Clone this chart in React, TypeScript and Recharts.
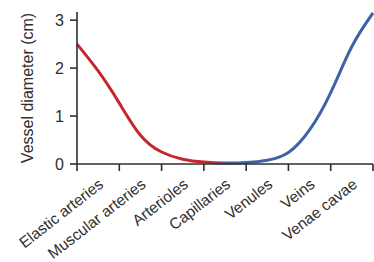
import React from 'react';
import { LineChart, Line, XAxis, YAxis } from 'recharts';

// vessel types, one band each along the x axis
const categories = [
  'Elastic arteries',
  'Muscular arteries',
  'Arterioles',
  'Capillaries',
  'Venules',
  'Veins',
  'Venae cavae',
];

// curve samples: position along the vessel tree (band units) and diameter (cm)
const positions = [0, 0.5, 1, 1.5, 2, 2.5, 3, 3.5, 4, 4.5, 5, 5.5, 6, 6.5, 7];
const diameters = [2.5, 1.94, 1.27, 0.6, 0.25, 0.1, 0.04, 0.02, 0.03, 0.08, 0.24, 0.71, 1.49, 2.45, 3.15];

const bandTicks = [0, 1, 2, 3, 4, 5, 6, 7];
const yTicks = [0, 1, 2, 3];

const W = 374;
const H = 262;
const Y_AXIS_W = 77;
const MARGIN = { top: 12, right: 1, left: 0, bottom: 0 };
const PLOT_W = W - Y_AXIS_W - MARGIN.right;
const HALF_BAND = PLOT_W / categories.length / 2;

const FONT = '"Liberation Sans", Arial, Helvetica, sans-serif';
const INK = '#2e2e2e';

const data = positions.map((p, i) => ({ pos: p, d: diameters[i] }));

const XTick = (props: any) => {
  const { x, y, payload } = props;
  const label = categories[payload.value];
  if (!label) return null;
  const tx = x + HALF_BAND + 3;
  const ty = y + 9;
  return (
    <text
      x={tx}
      y={ty}
      dy="0.35em"
      textAnchor="end"
      transform={`rotate(-38, ${tx}, ${ty})`}
      fontSize={15.5}
      fontFamily={FONT}
      fill={INK}
    >
      {label}
    </text>
  );
};

export default function App() {
  return (
    <div style={{ position: 'absolute', left: 0, top: 0, width: W, height: H, background: '#fff' }}>
      <LineChart width={W} height={H} data={data} margin={MARGIN}>
        <defs>
          <linearGradient id="vesselGrad" x1="0" y1="0" x2="1" y2="0">
            <stop offset="0%" stopColor="#c4262d" />
            <stop offset="44%" stopColor="#c4262d" />
            <stop offset="52%" stopColor="#3d63a5" />
            <stop offset="100%" stopColor="#3d63a5" />
          </linearGradient>
        </defs>
        <XAxis
          type="number"
          dataKey="pos"
          domain={[0, 7]}
          ticks={bandTicks}
          interval={0}
          height={H - 164}
          tickSize={7}
          tickMargin={2}
          axisLine={{ stroke: INK, strokeWidth: 1.6 }}
          tickLine={{ stroke: INK, strokeWidth: 1.6 }}
          tick={<XTick />}
        />
        <YAxis
          type="number"
          domain={[0, 3.17]}
          ticks={yTicks}
          interval={0}
          width={Y_AXIS_W}
          tickSize={7}
          tickMargin={6}
          axisLine={{ stroke: INK, strokeWidth: 1.6 }}
          tickLine={{ stroke: INK, strokeWidth: 1.6 }}
          tick={{ fontSize: 16, fontFamily: FONT, fill: INK }}
          label={{
            value: 'Vessel diameter (cm)',
            angle: -90,
            position: 'center',
            dx: -11,
            fontSize: 16,
            fontFamily: FONT,
            fill: INK,
          }}
        />
        <Line
          type="natural"
          dataKey="d"
          stroke="url(#vesselGrad)"
          strokeWidth={3}
          dot={false}
          activeDot={false}
          isAnimationActive={false}
        />
      </LineChart>
    </div>
  );
}
